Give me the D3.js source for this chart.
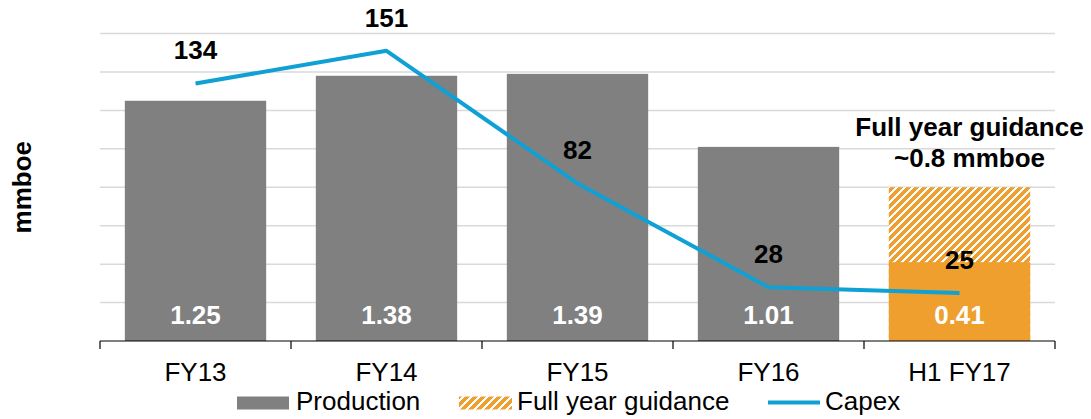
<!DOCTYPE html>
<html>
<head>
<meta charset="utf-8">
<script src="https://cdn.jsdelivr.net/npm/d3@7"></script>
<style>
  html, body { margin: 0; padding: 0; background: #fff; }
  svg { display: block; font-family: "Liberation Sans", Arial, sans-serif; }
</style>
</head>
<body>
<svg id="chart" width="1091" height="419"></svg>
<script>
// ---- data ----
const categories = ["FY13", "FY14", "FY15", "FY16", "H1 FY17"];
const production = [1.25, 1.38, 1.39, 1.01, 0.41];
const guidance = [null, null, null, null, 0.8];
const capex = [134, 151, 82, 28, 25];
const productionLabels = ["1.25", "1.38", "1.39", "1.01", "0.41"];
const capexLabels = ["134", "151", "82", "28", "25"];
const yTicks = [0, 0.2, 0.4, 0.6, 0.8, 1.0, 1.2, 1.4, 1.6];
const seriesNames = ["Production", "Full year guidance", "Capex"];
const guidanceNote = ["Full year guidance", "~0.8 mmboe"];
const yTitle = "mmboe";

// ---- style ----
const GRAY = "#808080", ORANGE = "#EE9F2E", BLUE = "#0FA0D4";
const FS = 26;

const svg = d3.select("#chart");
const m = { left: 100, right: 1055, top: 33.5, bottom: 341 };

const x = d3.scaleBand().domain(categories).range([m.left, m.right]).paddingInner(0.26).paddingOuter(0.13);
const xOuter = d3.scaleBand().domain(categories).range([m.left, m.right]);
const y = d3.scaleLinear().domain([0, 1.6]).range([m.bottom, m.top]);
const y2 = d3.scaleLinear().domain([0, 160]).range([m.bottom, m.top]);

// hatch pattern
const defs = svg.append("defs");
const pat = defs.append("pattern").attr("id", "hatch").attr("patternUnits", "userSpaceOnUse")
  .attr("width", 8).attr("height", 8);
pat.append("rect").attr("width", 8).attr("height", 8).attr("fill", "#fff");
pat.append("path").attr("d", "M-2,2 L2,-2 M0,8 L8,0 M6,10 L10,6")
  .attr("stroke", ORANGE).attr("stroke-width", 3.2).attr("shape-rendering", "crispEdges");

// gridlines
svg.append("g").selectAll("line").data(yTicks.slice(1)).join("line")
  .attr("x1", m.left).attr("x2", m.right)
  .attr("y1", d => y(d)).attr("y2", d => y(d))
  .attr("stroke", "#d9d9d9").attr("stroke-width", 1.5);

// guidance (hatched) bars
svg.append("g").selectAll("rect").data(categories.map((c, i) => ({ c, v: guidance[i] })).filter(d => d.v != null)).join("rect")
  .attr("x", d => x(d.c)).attr("width", x.bandwidth())
  .attr("y", d => y(d.v)).attr("height", d => y(0) - y(d.v))
  .attr("fill", "url(#hatch)");

// production bars
svg.append("g").selectAll("rect").data(categories.map((c, i) => ({ c, v: production[i], i }))).join("rect")
  .attr("x", d => x(d.c)).attr("width", x.bandwidth())
  .attr("y", d => y(d.v)).attr("height", d => y(0) - y(d.v))
  .attr("fill", d => d.i === categories.length - 1 ? ORANGE : GRAY);

// production labels
svg.append("g").selectAll("text").data(categories.map((c, i) => ({ c, t: productionLabels[i] }))).join("text")
  .attr("x", d => x(d.c) + x.bandwidth() / 2).attr("y", y(0) - 17)
  .attr("text-anchor", "middle").attr("fill", "#fff").attr("font-weight", "bold").attr("font-size", FS)
  .text(d => d.t);

// x axis
const xAxis = svg.append("g").attr("transform", `translate(0,${m.bottom})`);
xAxis.append("line").attr("x1", m.left).attr("x2", m.right).attr("stroke", "#000").attr("stroke-width", 1.2);
const bounds = categories.map(c => xOuter(c)).concat([m.right]);
xAxis.selectAll("line.tick").data(bounds).join("line").attr("class", "tick")
  .attr("x1", d => d).attr("x2", d => d).attr("y1", 0).attr("y2", 8)
  .attr("stroke", "#000").attr("stroke-width", 1.2);
xAxis.selectAll("text").data(categories).join("text")
  .attr("x", d => xOuter(d) + xOuter.bandwidth() / 2).attr("y", 39.5)
  .attr("text-anchor", "middle").attr("font-size", FS).attr("fill", "#000")
  .text(d => d);

// capex line
const line = d3.line().x((d, i) => xOuter(categories[i]) + xOuter.bandwidth() / 2).y(d => y2(d));
svg.append("path").datum(capex).attr("d", line)
  .attr("fill", "none").attr("stroke", BLUE).attr("stroke-width", 4).attr("stroke-linejoin", "round");

// capex labels
svg.append("g").selectAll("text").data(capex).join("text")
  .attr("x", (d, i) => xOuter(categories[i]) + xOuter.bandwidth() / 2)
  .attr("y", d => y2(d) - 24)
  .attr("text-anchor", "middle").attr("font-weight", "bold").attr("font-size", FS).attr("fill", "#000")
  .text((d, i) => capexLabels[i]);

// guidance note
const last = categories[categories.length - 1];
svg.append("text").attr("font-weight", "bold").attr("font-size", FS).attr("text-anchor", "middle")
  .selectAll("tspan").data(guidanceNote).join("tspan")
  .attr("x", xOuter(last) + xOuter.bandwidth() / 2 + 10)
  .attr("y", (d, i) => 136 + i * 30.5)
  .text(d => d);

// y title
svg.append("text").attr("transform", `translate(31,${(m.top + m.bottom) / 2}) rotate(-90)`)
  .attr("text-anchor", "middle").attr("font-weight", "bold").attr("font-size", FS)
  .text(yTitle);

// legend
const lg = svg.append("g");
const ly = 409.5;
lg.append("rect").attr("x", 237).attr("y", ly - 13).attr("width", 52).attr("height", 13).attr("fill", GRAY);
lg.append("text").attr("x", 296).attr("y", ly).attr("font-size", FS).text(seriesNames[0]);
lg.append("rect").attr("x", 459).attr("y", ly - 13).attr("width", 53).attr("height", 13).attr("fill", "url(#hatch)");
lg.append("text").attr("x", 517).attr("y", ly).attr("font-size", FS).text(seriesNames[1]);
lg.append("line").attr("x1", 768).attr("x2", 820).attr("y1", ly - 7).attr("y2", ly - 7).attr("stroke", BLUE).attr("stroke-width", 4);
lg.append("text").attr("x", 825).attr("y", ly).attr("font-size", FS).text(seriesNames[2]);
</script>
</body>
</html>
